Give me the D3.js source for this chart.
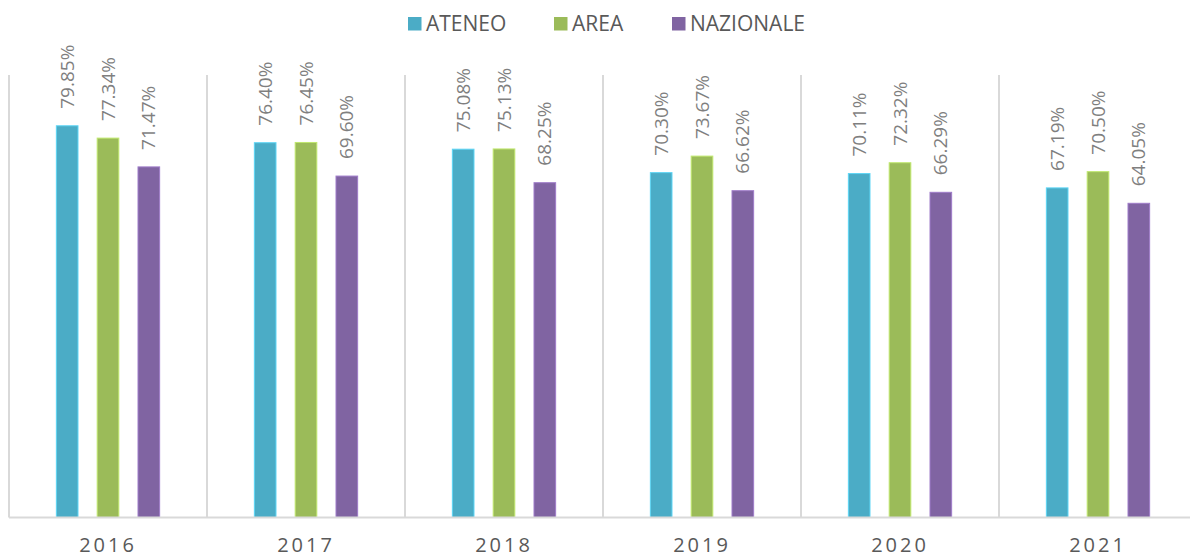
<!DOCTYPE html>
<html>
<head>
<meta charset="utf-8">
<script src="https://cdn.jsdelivr.net/npm/d3@7"></script>
<style>
  html, body { margin: 0; padding: 0; background: #fff; }
  svg { display: block; font-family: "Open Sans", sans-serif; }
</style>
</head>
<body>
<svg id="chart" width="1190" height="557"></svg>
<script>
const years = ["2016", "2017", "2018", "2019", "2020", "2021"];
const seriesNames = ["ATENEO", "AREA", "NAZIONALE"];
const ateneo = [79.85, 76.40, 75.08, 70.30, 70.11, 67.19];
const area = [77.34, 76.45, 75.13, 73.67, 72.32, 70.50];
const nazionale = [71.47, 69.60, 68.25, 66.62, 66.29, 64.05];
const colors = ["#4bacc6", "#9bbb59", "#8064a2"];
const yMax = 90;

const seriesValues = [ateneo, area, nazionale];
const data = years.map((yr, i) => ({
  year: yr,
  values: seriesNames.map((s, j) => ({ series: s, value: seriesValues[j][i], color: colors[j] }))
}));

const svg = d3.select("#chart");
const plotLeft = 9, plotRight = 1197, plotTop = 76, plotBottom = 517.5;

const x0 = d3.scaleBand().domain(years).range([plotLeft, plotRight]).paddingInner(0).paddingOuter(0);
const x1 = d3.scaleBand().domain(seriesNames).range([0, x0.bandwidth()]).paddingInner(0.47).paddingOuter(1.16);
const y = d3.scaleLinear().domain([0, yMax]).range([plotBottom, plotTop]);

// category separators
const seps = years.map(yr => x0(yr)).concat([plotRight]);
svg.append("g").selectAll("line").data(seps).join("line")
  .attr("x1", d => d).attr("x2", d => d)
  .attr("y1", 75).attr("y2", plotBottom)
  .attr("stroke", "#d9d9d9").attr("stroke-width", 2);

// bars
const groups = svg.append("g").selectAll("g").data(data).join("g")
  .attr("transform", d => `translate(${x0(d.year)},0)`);

groups.selectAll("rect").data(d => d.values).join("rect")
  .attr("x", d => x1(d.series))
  .attr("y", d => y(d.value))
  .attr("width", x1.bandwidth())
  .attr("height", d => y(0) - y(d.value))
  .attr("fill", d => d.color)
  .attr("stroke", d => d3.color(d.color).brighter(0.6))
  .attr("stroke-width", 1);

// data labels
groups.selectAll("text").data(d => d.values).join("text")
  .attr("transform", d => `translate(${x1(d.series) + x1.bandwidth() / 2},${y(d.value) - 17}) rotate(-90)`)
  .attr("dy", "0.35em")
  .attr("text-anchor", "start")
  .attr("font-size", 19)
  .attr("fill", "#7f7f7f")
  .text(d => d.value.toFixed(2) + "%");

// baseline axis
const xAxis = d3.axisBottom(x0).tickSize(0).tickPadding(0);
const ax = svg.append("g").attr("transform", `translate(0,${plotBottom})`).call(xAxis);
ax.select(".domain").attr("stroke", "#d9d9d9").attr("stroke-width", 2)
  .attr("d", `M${plotLeft},0H${plotRight}`);
ax.selectAll(".tick text")
  .attr("y", 34)
  .attr("dy", 0)
  .attr("font-family", "Open Sans, sans-serif")
  .attr("font-size", 20)
  .attr("letter-spacing", "3px")
  .attr("fill", "#595959");

// legend
const legendX = [408, 554, 672];
const leg = svg.append("g").selectAll("g").data(seriesNames).join("g")
  .attr("transform", (d, i) => `translate(${legendX[i]},0)`);
leg.append("rect").attr("x", 0).attr("y", 17).attr("width", 13.5).attr("height", 13.5)
  .attr("fill", (d, i) => colors[i]);
leg.append("text").attr("x", 18).attr("y", 30.5)
  .attr("font-size", 21).attr("fill", "#595959")
  .text(d => d);
</script>
</body>
</html>
